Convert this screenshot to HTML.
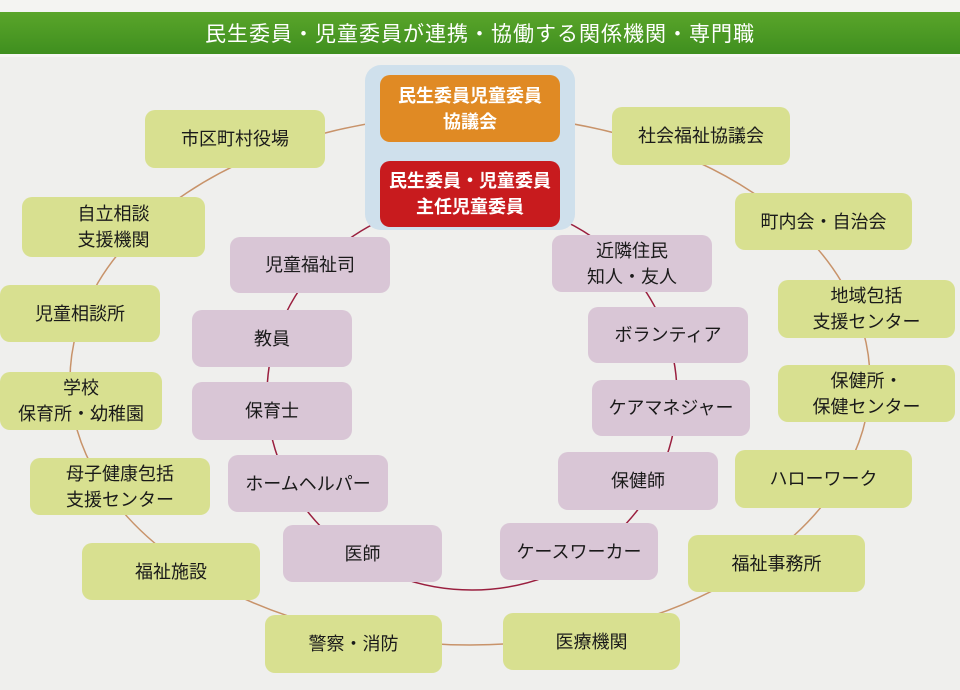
<!DOCTYPE html>
<html><head><meta charset="utf-8"><style>
body{margin:0;width:960px;height:690px;background:#efefed;position:relative;overflow:hidden;font-family:"Liberation Sans","Noto Sans CJK JP",sans-serif;}
.b{position:absolute;border-radius:10px;display:flex;align-items:center;justify-content:center;text-align:center;font-size:18px;line-height:26px;color:#1a1a1a;}
.g{background:#d8e090;}
.p{background:#d9c6d6;}
.band{position:absolute;left:0;top:12px;width:960px;height:42px;background:linear-gradient(#5aa52a,#3f8f1f);color:#fff;font-size:21px;display:flex;align-items:center;justify-content:center;letter-spacing:1px;}
svg{position:absolute;left:0;top:0}
</style></head><body>
<div style="position:absolute;left:0;top:0;width:960px;height:12px;background:#f4f4f2"></div>
<div style="position:absolute;left:0;top:54px;width:960px;height:3px;background:#f6f6f4"></div>
<div class="band">民生委員・児童委員が連携・協働する関係機関・専門職</div>
<svg width="960" height="690"><ellipse cx="470" cy="380" rx="400" ry="265" fill="none" stroke="#c8936a" stroke-width="1.5"/><ellipse cx="472" cy="395" rx="205" ry="195" fill="none" stroke="#9a1f3f" stroke-width="1.5"/></svg>
<div class="b" style="left:365px;top:65px;width:210px;height:165px;background:#cfe0ec;border-radius:16px"></div>
<div class="b" style="left:380px;top:75px;width:180px;height:67px;background:#e08a24;color:#fff;font-weight:bold;">民生委員児童委員<br>協議会</div>
<div class="b" style="left:380px;top:161px;width:180px;height:66px;background:#c81b1e;color:#fff;font-weight:bold;">民生委員・児童委員<br>主任児童委員</div>
<div class="b g" style="left:145px;top:110px;width:180px;height:58px">市区町村役場</div>
<div class="b g" style="left:612px;top:107px;width:178px;height:58px">社会福祉協議会</div>
<div class="b g" style="left:22px;top:197px;width:183px;height:60px">自立相談<br>支援機関</div>
<div class="b g" style="left:735px;top:193px;width:177px;height:57px">町内会・自治会</div>
<div class="b g" style="left:0px;top:285px;width:160px;height:57px">児童相談所</div>
<div class="b g" style="left:778px;top:280px;width:177px;height:58px">地域包括<br>支援センター</div>
<div class="b g" style="left:0px;top:372px;width:162px;height:58px">学校<br>保育所・幼稚園</div>
<div class="b g" style="left:778px;top:365px;width:177px;height:57px">保健所・<br>保健センター</div>
<div class="b g" style="left:30px;top:458px;width:180px;height:57px">母子健康包括<br>支援センター</div>
<div class="b g" style="left:735px;top:450px;width:177px;height:58px">ハローワーク</div>
<div class="b g" style="left:82px;top:543px;width:178px;height:57px">福祉施設</div>
<div class="b g" style="left:688px;top:535px;width:177px;height:57px">福祉事務所</div>
<div class="b g" style="left:265px;top:615px;width:177px;height:58px">警察・消防</div>
<div class="b g" style="left:503px;top:613px;width:177px;height:57px">医療機関</div>
<div class="b p" style="left:230px;top:237px;width:160px;height:56px">児童福祉司</div>
<div class="b p" style="left:192px;top:310px;width:160px;height:57px">教員</div>
<div class="b p" style="left:192px;top:382px;width:160px;height:58px">保育士</div>
<div class="b p" style="left:228px;top:455px;width:160px;height:57px">ホームヘルパー</div>
<div class="b p" style="left:283px;top:525px;width:159px;height:57px">医師</div>
<div class="b p" style="left:552px;top:235px;width:160px;height:57px">近隣住民<br>知人・友人</div>
<div class="b p" style="left:588px;top:307px;width:160px;height:56px">ボランティア</div>
<div class="b p" style="left:592px;top:380px;width:158px;height:56px">ケアマネジャー</div>
<div class="b p" style="left:558px;top:452px;width:160px;height:58px">保健師</div>
<div class="b p" style="left:500px;top:523px;width:158px;height:57px">ケースワーカー</div>
</body></html>
